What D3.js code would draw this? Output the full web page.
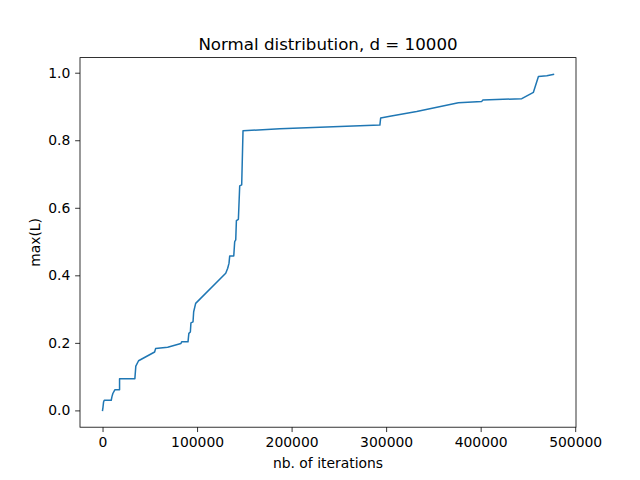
<!DOCTYPE html>
<html>
<head>
<meta charset="utf-8">
<script src="https://cdn.jsdelivr.net/npm/d3@7/dist/d3.min.js"></script>
<style>
body { margin: 0; background: #fff; }
text { font-family: "DejaVu Sans", sans-serif; fill: #000; }
</style>
</head>
<body>
<svg id="chart" width="640" height="480"></svg>
<script>
const iterations = [0, 500, 1100, 1800, 9200, 9900, 10900, 13000, 18000, 18000, 34200, 35200, 38100, 55100, 56100, 68900, 82900, 83700, 90400, 91300, 92900, 93500, 95700, 96400, 98500, 130300, 132400, 133800, 134500, 138800, 139800, 140900, 141600, 143700, 145100, 147200, 148600, 187500, 293400, 294200, 304000, 332300, 376400, 401200, 402200, 443500, 455800, 461100, 470000, 477000];
const maxL = [0.0, 0.01, 0.025, 0.030, 0.030, 0.040, 0.050, 0.061, 0.061, 0.094, 0.094, 0.131, 0.147, 0.173, 0.183, 0.187, 0.198, 0.203, 0.203, 0.228, 0.232, 0.259, 0.262, 0.292, 0.317, 0.406, 0.421, 0.436, 0.457, 0.457, 0.500, 0.505, 0.562, 0.566, 0.665, 0.668, 0.828, 0.834, 0.845, 0.866, 0.871, 0.885, 0.911, 0.915, 0.919, 0.923, 0.942, 0.989, 0.991, 0.995];
const xTicks = [0, 100000, 200000, 300000, 400000, 500000];
const yTicks = [0.0, 0.2, 0.4, 0.6, 0.8, 1.0];
const titleText = "Normal distribution, d = 10000";
const xLabelText = "nb. of iterations";
const yLabelText = "max(L)";

(function () {
const mLeft = 80, mRight = 576, mTop = 57.6, mBottom = 427.2;
const svg = d3.select("#chart");

function padded(arr) {
  const [a, b] = d3.extent(arr);
  const m = (b - a) * 0.05;
  return [a - m, b + m];
}
const x = d3.scaleLinear().domain(padded(iterations)).range([mLeft, mRight]);
const y = d3.scaleLinear().domain(padded(maxL)).range([mBottom, mTop]);

const pts = iterations.map((v, i) => [v, maxL[i]]);
const line = d3.line().x(d => x(d[0])).y(d => y(d[1]));

svg.append("path")
  .datum(pts)
  .attr("d", line)
  .attr("fill", "none")
  .attr("stroke", "#1f77b4")
  .attr("stroke-width", 1.5)
  .attr("stroke-linejoin", "round")
  .attr("stroke-linecap", "square");

const fs = 13.9;
const tickLen = 4.86, tickPad = 4.86;

const xAxis = d3.axisBottom(x).tickValues(xTicks).tickFormat(d3.format("d"))
  .tickSizeInner(tickLen).tickSizeOuter(0).tickPadding(tickPad);
const gx = svg.append("g").attr("transform", `translate(0,${mBottom})`).call(xAxis);
gx.select(".domain").remove();
gx.selectAll("line").attr("stroke", "#000").attr("stroke-width", 0.8);
gx.selectAll("text").attr("font-size", fs).attr("font-family", "DejaVu Sans").attr("fill", "#000");

const yAxis = d3.axisLeft(y).tickValues(yTicks).tickFormat(d3.format(".1f"))
  .tickSizeInner(tickLen).tickSizeOuter(0).tickPadding(tickPad);
const gy = svg.append("g").attr("transform", `translate(${mLeft},0)`).call(yAxis);
gy.select(".domain").remove();
gy.selectAll("line").attr("stroke", "#000").attr("stroke-width", 0.8);
gy.selectAll("text").attr("font-size", fs).attr("font-family", "DejaVu Sans").attr("fill", "#000");

svg.append("rect")
  .attr("x", mLeft).attr("y", mTop)
  .attr("width", mRight - mLeft).attr("height", mBottom - mTop)
  .attr("fill", "none").attr("stroke", "#000").attr("stroke-width", 0.8);

svg.append("text")
  .attr("x", (mLeft + mRight) / 2).attr("y", 49.5)
  .attr("text-anchor", "middle")
  .attr("font-size", 16.67)
  .text(titleText);

svg.append("text")
  .attr("x", (mLeft + mRight) / 2).attr("y", 468)
  .attr("text-anchor", "middle")
  .attr("font-size", fs)
  .text(xLabelText);

svg.append("text")
  .attr("transform", `translate(39.5,${(mTop + mBottom) / 2}) rotate(-90)`)
  .attr("text-anchor", "middle")
  .attr("font-size", fs)
  .text(yLabelText);
})();
</script>
</body>
</html>
